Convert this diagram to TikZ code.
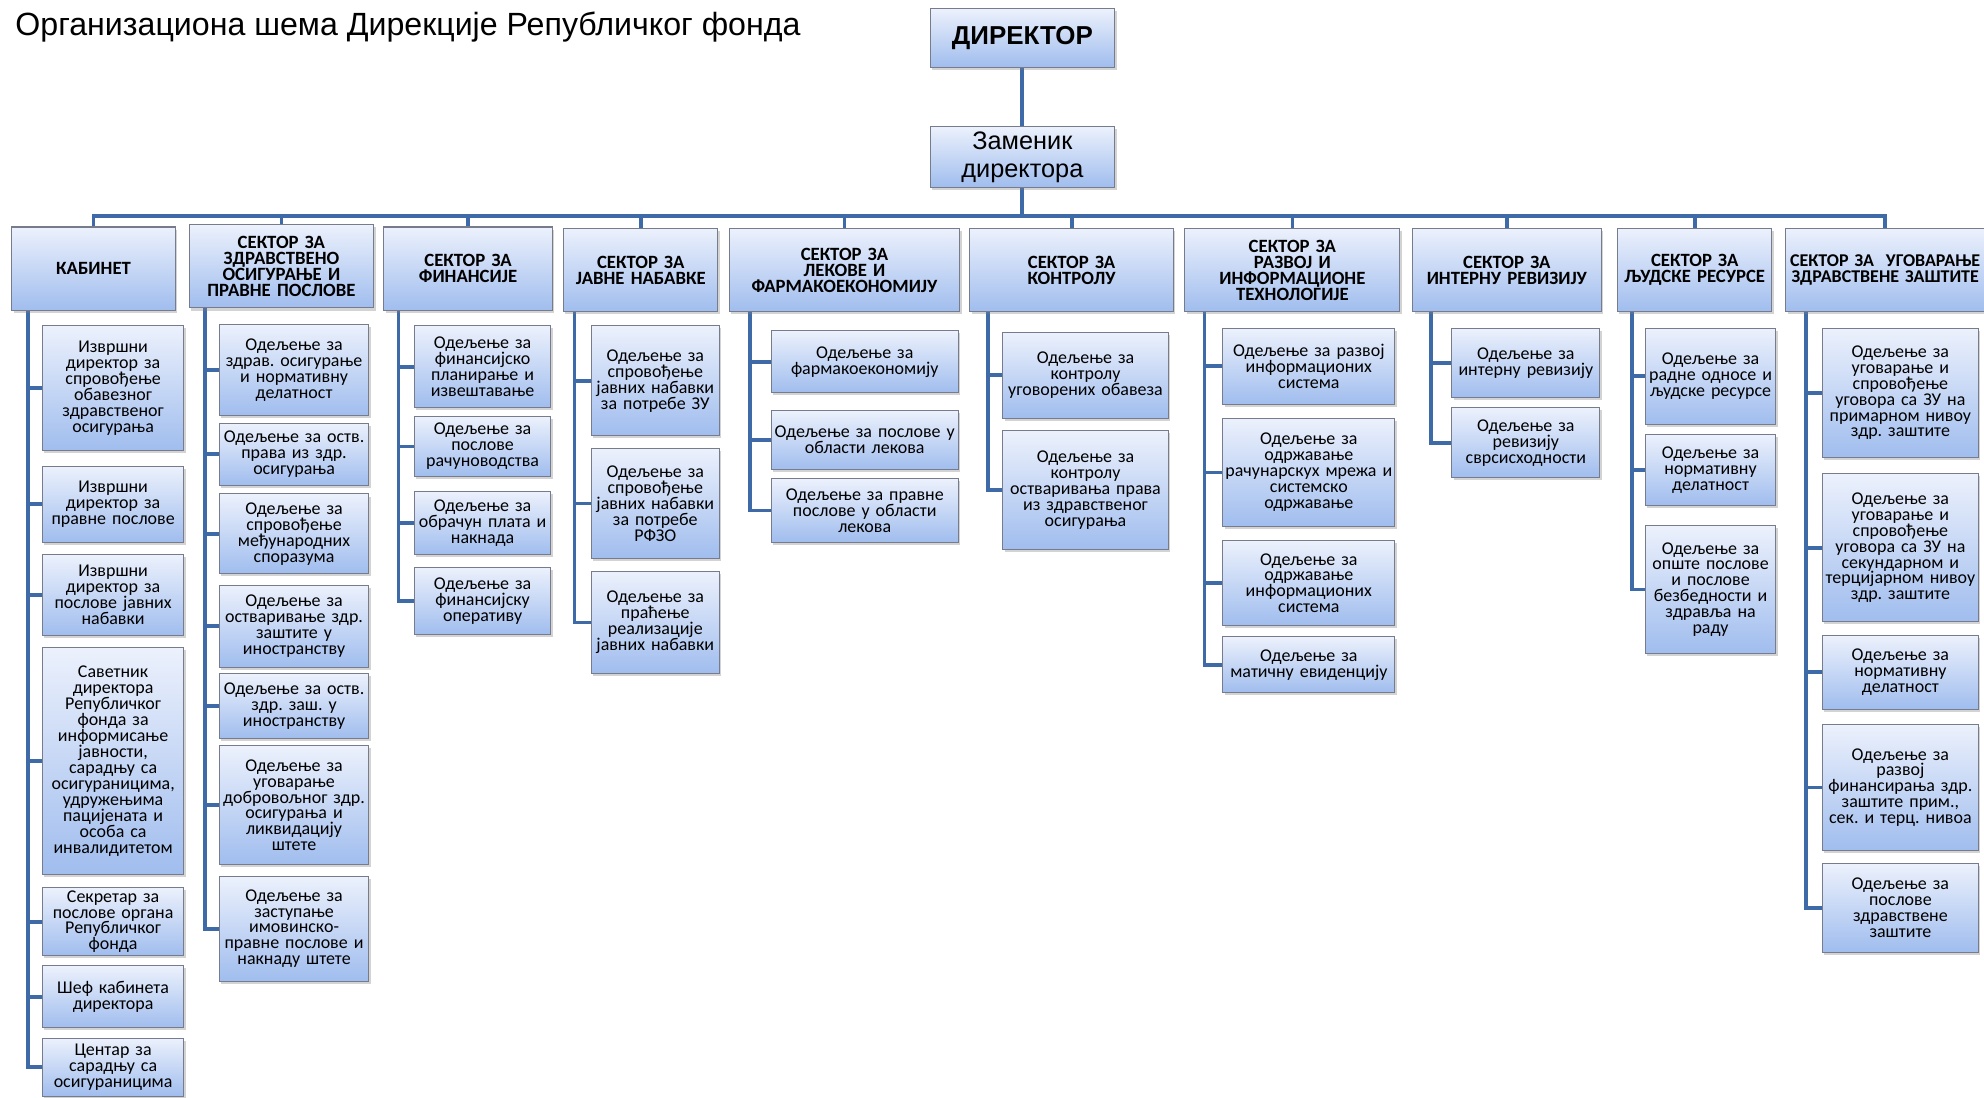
\documentclass[tikz,border=0pt]{standalone}
\usepackage{fontspec}
\setmainfont{Carlito}
\newfontfamily\arialfont{Liberation Sans}
\usetikzlibrary{shadows}
\usetikzlibrary{backgrounds}
\definecolor{boxtop}{RGB}{236,241,252}
\definecolor{boxbot}{RGB}{160,189,238}
\definecolor{boxline}{RGB}{118,124,140}
\definecolor{linkblue}{RGB}{62,106,168}
\lineskiplimit=-20pt
\frenchspacing

\begin{document}
\begin{tikzpicture}[x=1pt,y=-1pt,
  box/.style={draw=boxline,line width=.8pt,top color=boxtop,bottom color=boxbot,anchor=north west,align=center,inner sep=1pt,
    drop shadow={shadow xshift=1.5pt,shadow yshift=-2pt,opacity=.35}},
  dept/.style={box,font=\fontsize{14.2}{12.6}\selectfont},
  sector/.style={box,minimum height=66pt,font=\fontsize{14.8}{12.6}\selectfont\bfseries},
  link/.style={draw=linkblue,line width=3pt}]
\useasboundingbox (0,0) rectangle (1568,867);

\node[anchor=base west,inner sep=0pt,font=\arialfont\fontsize{25.4}{28}\selectfont] (title) at (12,28) {Организациона шема Дирекције Републичког фонда};
\node[box,anchor=center,minimum width=146pt,minimum height=46pt,font=\arialfont\bfseries\fontsize{20.5}{22}\selectfont] (dir) at (808,30) {ДИРЕКТОР};
\node[box,anchor=center,minimum width=146pt,minimum height=48pt,font=\arialfont\fontsize{20}{22}\selectfont] (zam) at (808,124) {Заменик\\директора};
\coordinate (bus) at (808,171);

\node[sector,text width=127pt] (s1) at (9,179) {КАБИНЕТ};
\node[sector,text width=144pt] (s2) at (149,177) {СЕКТОР ЗА\\ЗДРАВСТВЕНО\\ОСИГУРАЊЕ И\\ПРАВНЕ ПОСЛОВЕ};
\node[sector,text width=131pt] (s3) at (303,179) {СЕКТОР ЗА\\ФИНАНСИЈЕ};
\node[sector,text width=120pt] (s4) at (445,180) {СЕКТОР ЗА\\ЈАВНЕ НАБАВКЕ};
\node[sector,text width=180pt] (s5) at (576,180) {СЕКТОР ЗА\\ЛЕКОВЕ И\\ФАРМАКОЕКОНОМИЈУ};
\node[sector,text width=159pt] (s6) at (766,180) {СЕКТОР ЗА\\КОНТРОЛУ};
\node[sector,text width=168pt] (s7) at (936,180) {СЕКТОР ЗА\\РАЗВОЈ И\\ИНФОРМАЦИОНЕ\\ТЕХНОЛОГИЈЕ};
\node[sector,text width=147pt] (s8) at (1116,180) {СЕКТОР ЗА\\ИНТЕРНУ РЕВИЗИЈУ};
\node[sector,text width=120pt] (s9) at (1278,180) {СЕКТОР ЗА\\ЉУДСКЕ РЕСУРСЕ};
\node[sector,text width=155pt,font=\fontsize{14.2}{12.6}\selectfont\bfseries] (s10) at (1411,180) {СЕКТОР ЗА\ \ УГОВАРАЊЕ\\ЗДРАВСТВЕНЕ ЗАШТИТЕ};

\node[dept,text width=110pt,minimum height=99pt] (k1) at (33,257) {Извршни\\директор за\\спровођење\\обавезног\\здравственог\\осигурања};
\node[dept,text width=110pt,minimum height=60pt] (k2) at (33,368) {Извршни\\директор за\\правне послове};
\node[dept,text width=110pt,minimum height=64pt] (k3) at (33,438) {Извршни\\директор за\\послове јавних\\набавки};
\node[dept,text width=110pt,minimum height=180pt] (k4) at (33,511) {Саветник\\директора\\Републичког\\фонда за\\информисање\\јавности,\\сарадњу са\\осигураницима,\\удружењима\\пацијената и\\особа са\\инвалидитетом};
\node[dept,text width=110pt,minimum height=54pt] (k5) at (33,701) {Секретар за\\послове органа\\Републичког\\фонда};
\node[dept,text width=110pt,minimum height=49pt] (k6) at (33,763) {Шеф кабинета\\директора};
\node[dept,text width=110pt,minimum height=46pt] (k7) at (33,820) {Центар за\\сарадњу са\\осигураницима};

\node[dept,text width=116pt,minimum height=72pt] (d1) at (173,256) {Одељење за\\здрав. осигурање\\и нормативну\\делатност};
\node[dept,text width=116pt,minimum height=49pt] (d2) at (173,334) {Одељење за оств.\\права из здр.\\осигурања};
\node[dept,text width=116pt,minimum height=63pt] (d3) at (173,390) {Одељење за\\спровођење\\међународних\\споразума};
\node[dept,text width=116pt,minimum height=65pt] (d4) at (173,462) {Одељење за\\остваривање здр.\\заштите у\\иностранству};
\node[dept,text width=116pt,minimum height=51pt] (d5) at (173,532) {Одељење за оств.\\здр. заш. у\\иностранству};
\node[dept,text width=116pt,minimum height=94pt] (d6) at (173,589) {Одељење за\\уговарање\\добровољног здр.\\осигурања и\\ликвидацију\\штете};
\node[dept,text width=116pt,minimum height=83pt] (d7) at (173,692) {Одељење за\\заступање\\имовинско-\\правне послове и\\накнаду штете};

\node[dept,text width=106pt,minimum height=65pt] (f1) at (327,257) {Одељење за\\финансијско\\планирање и\\извештавање};
\node[dept,text width=106pt,minimum height=47pt] (f2) at (327,329) {Одељење за\\послове\\рачуноводства};
\node[dept,text width=106pt,minimum height=50pt] (f3) at (327,388) {Одељење за\\обрачун плата и\\накнада};
\node[dept,text width=106pt,minimum height=53pt] (f4) at (327,448) {Одељење за\\финансијску\\оперативу};

\node[dept,text width=99pt,minimum height=87pt] (j1) at (467,257) {Одељење за\\спровођење\\јавних набавки\\за потребе ЗУ};
\node[dept,text width=99pt,minimum height=87pt] (j2) at (467,354) {Одељење за\\спровођење\\јавних набавки\\за потребе\\РФЗО};
\node[dept,text width=99pt,minimum height=81pt] (j3) at (467,451) {Одељење за\\праћење\\реализације\\јавних набавки};

\node[dept,text width=146pt,minimum height=49pt] (l1) at (609,261) {Одељење за\\фармакоекономију};
\node[dept,text width=146pt,minimum height=47pt] (l2) at (609,324) {Одељење за послове у\\области лекова};
\node[dept,text width=146pt,minimum height=50pt] (l3) at (609,378) {Одељење за правне\\послове у области\\лекова};

\node[dept,text width=129pt,minimum height=68pt] (c1) at (792,262) {Одељење за\\контролу\\уговорених обавеза};
\node[dept,text width=129pt,minimum height=94pt] (c2) at (792,340) {Одељење за\\контролу\\остваривања права\\из здравственог\\осигурања};

\node[dept,text width=134pt,minimum height=60pt] (r1) at (966,259) {Одељење за развој\\информационих\\система};
\node[dept,text width=134pt,minimum height=86pt] (r2) at (966,330) {Одељење за\\одржавање\\рачунарскух мрежа и\\системско\\одржавање};
\node[dept,text width=134pt,minimum height=67pt] (r3) at (966,427) {Одељење за\\одржавање\\информационих\\система};
\node[dept,text width=134pt,minimum height=44pt] (r4) at (966,503) {Одељење за\\матичну евиденцију};

\node[dept,text width=115pt,minimum height=55pt] (i1) at (1147,259) {Одељење за\\интерну ревизију};
\node[dept,text width=115pt,minimum height=55pt] (i2) at (1147,322) {Одељење за\\ревизију\\сврсисходности};

\node[dept,text width=101pt,minimum height=76pt] (h1) at (1300,259) {Одељење за\\радне односе и\\људске ресурсе};
\node[dept,text width=101pt,minimum height=56pt] (h2) at (1300,343) {Одељење за\\нормативну\\делатност};
\node[dept,text width=101pt,minimum height=101pt] (h3) at (1300,415) {Одељење за\\опште послове\\и послове\\безбедности и\\здравља на\\раду};

\node[dept,text width=121pt,minimum height=102pt] (u1) at (1440,259) {Одељење за\\уговарање и\\спровођење\\уговора са ЗУ на\\примарном нивоу\\здр. заштите};
\node[dept,text width=121pt,minimum height=117pt] (u2) at (1440,374) {Одељење за\\уговарање и\\спровођење\\уговора са ЗУ на\\секундарном и\\терцијарном нивоу\\здр. заштите};
\node[dept,text width=121pt,minimum height=58pt] (u3) at (1440,502) {Одељење за\\нормативну\\делатност};
\node[dept,text width=121pt,minimum height=100pt] (u4) at (1440,572) {Одељење за\\развој\\финансирања здр.\\заштите прим.,\\сек. и терц. нивоа};
\node[dept,text width=121pt,minimum height=70pt] (u5) at (1440,682) {Одељење за\\послове\\здравствене\\заштите};

\begin{scope}[on background layer]
\draw[link] (dir) -- (zam);
\foreach \n in {1,...,10} \draw[link] (zam.south) -- (zam.south |- bus) -| (s\n.north);
\foreach \k in {k1,k2,k3,k4,k5,k6,k7} \draw[link] ([xshift=13pt]s1.south west) |- (\k.west);
\foreach \k in {d1,d2,d3,d4,d5,d6,d7} \draw[link] ([xshift=13pt]s2.south west) |- (\k.west);
\foreach \k in {f1,f2,f3,f4} \draw[link] ([xshift=12pt]s3.south west) |- (\k.west);
\foreach \k in {j1,j2,j3} \draw[link] ([xshift=9pt]s4.south west) |- (\k.west);
\foreach \k in {l1,l2,l3} \draw[link] ([xshift=17pt]s5.south west) |- (\k.west);
\foreach \k in {c1,c2} \draw[link] ([xshift=15pt]s6.south west) |- (\k.west);
\foreach \k in {r1,r2,r3,r4} \draw[link] ([xshift=16pt]s7.south west) |- (\k.west);
\foreach \k in {i1,i2} \draw[link] ([xshift=15pt]s8.south west) |- (\k.west);
\foreach \k in {h1,h2,h3} \draw[link] ([xshift=12pt]s9.south west) |- (\k.west);
\foreach \k in {u1,u2,u3,u4,u5} \draw[link] ([xshift=16pt]s10.south west) |- (\k.west);
\end{scope}
\end{tikzpicture}
\end{document}
